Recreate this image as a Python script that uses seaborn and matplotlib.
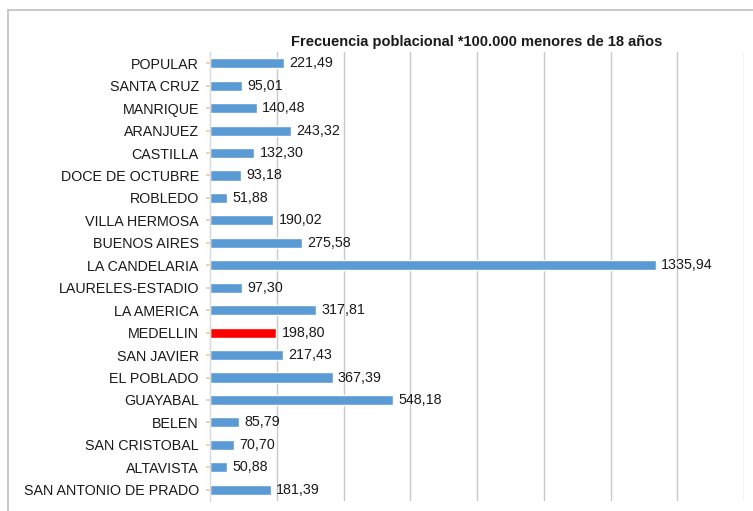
import matplotlib
matplotlib.use("Agg")
import matplotlib.pyplot as plt
import seaborn as sns
import pandas as pd
from matplotlib.lines import Line2D

comunas = ["POPULAR", "SANTA CRUZ", "MANRIQUE", "ARANJUEZ", "CASTILLA",
           "DOCE DE OCTUBRE", "ROBLEDO", "VILLA HERMOSA", "BUENOS AIRES",
           "LA CANDELARIA", "LAURELES-ESTADIO", "LA AMERICA", "MEDELLIN",
           "SAN JAVIER", "EL POBLADO", "GUAYABAL", "BELEN", "SAN CRISTOBAL",
           "ALTAVISTA", "SAN ANTONIO DE PRADO"]
valores = [221.49, 95.01, 140.48, 243.32, 132.30, 93.18, 51.88, 190.02,
           275.58, 1335.94, 97.30, 317.81, 198.80, 217.43, 367.39, 548.18,
           85.79, 70.70, 50.88, 181.39]
titulo = "Frecuencia poblacional *100.000 menores de 18 años"
resaltado = "MEDELLIN"

df = pd.DataFrame({"comuna": comunas, "valor": valores})
palette = {c: ("#FF0000" if c == resaltado else "#5B9BD5") for c in comunas}

sns.set_theme(style="white")
plt.rcParams["font.family"] = ["Liberation Sans", "DejaVu Sans"]

fig = plt.figure(figsize=(7.53, 5.11), dpi=100)
ax = fig.add_axes([210 / 753, 1 - 501 / 511, 534 / 753, 449 / 511])

sns.barplot(data=df, y="comuna", x="valor", hue="comuna", palette=palette,
            order=comunas, legend=False, width=0.45, ax=ax, saturation=1)

ax.set_xlim(0, 1600)
ax.set_ylim(len(comunas) - 0.5, -0.5)
ax.set_xticks(range(200, 1601, 200))
ax.xaxis.grid(True, color="#C8C8C8", linewidth=1.0)
ax.set_axisbelow(True)
ax.tick_params(axis="x", bottom=False, labelbottom=False)
ax.tick_params(axis="y", left=True, length=3, color="#F4C9A8", labelsize=10.3,
               labelcolor="#1a1a1a", pad=5)
ax.set_xlabel("")
ax.set_ylabel("")
for s in ["top", "right", "bottom"]:
    ax.spines[s].set_visible(False)
ax.spines["left"].set_color("#D9D9D9")
ax.spines["left"].set_linewidth(1.0)

for i, v in enumerate(valores):
    ax.text(v + 16, i, f"{v:.2f}".replace(".", ","), va="center", ha="left",
            fontsize=10.3, color="#1a1a1a")

fig.text((210 + 744) / 2 / 753, 1 - 42 / 511, titulo, ha="center", va="center",
         fontsize=10.5, fontweight="bold", color="#1a1a1a")

# outer chart frame
fig.add_artist(Line2D([8 / 753, 1.0], [1 - 10 / 511, 1 - 10 / 511],
                      transform=fig.transFigure, color="#BFBFBF", linewidth=1.2))
fig.add_artist(Line2D([8 / 753, 8 / 753], [1 - 10 / 511, 0.0],
                      transform=fig.transFigure, color="#BFBFBF", linewidth=1.2))

fig.savefig("out.png", dpi=100, facecolor="white")
